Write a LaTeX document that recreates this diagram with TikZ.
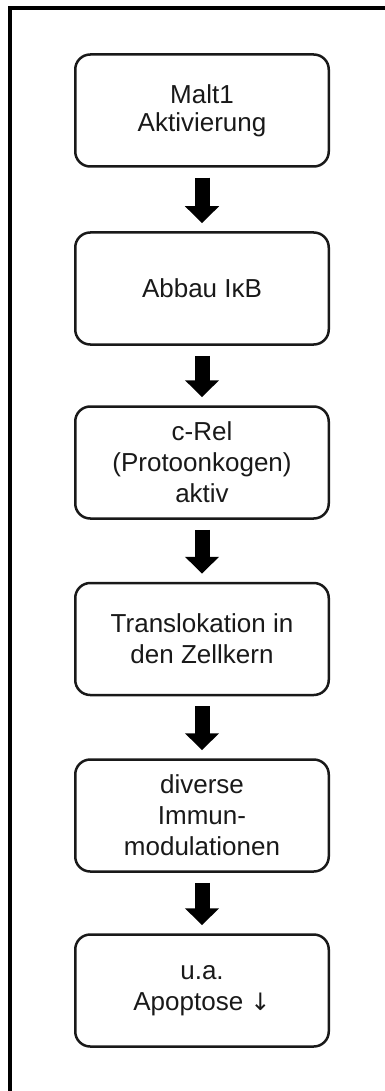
\documentclass[tikz,border=0pt]{standalone}
\usepackage{fontspec}
\setmainfont{Liberation Sans}
\newfontfamily\symfont{DejaVu Sans}
\usetikzlibrary{arrows.meta}
\tikzset{
  stepbox/.style={draw=black!90, line width=2.5pt, rounded corners=15pt,
    minimum width=253.5pt, minimum height=112pt, align=center,
    font=\fontsize{26pt}{31pt}\selectfont, text=black!90, inner sep=0pt},
  flowarrow/.style={line width=15pt, -{Triangle[width=33pt,length=17pt]}, black},
}
\begin{document}
\begin{tikzpicture}[x=1pt,y=-1pt]
\useasboundingbox (0,0) rectangle (384,1091);
\draw[line width=4pt] (386,8) -- (10,8) -- (10,1093);
\node[stepbox, font=\fontsize{26pt}{28pt}\selectfont] (b1) at (202,110.5) {Malt1\\Aktivierung};
\node[stepbox] (b2) at (202,288.5) {Abbau IκB};
\node[stepbox] (b3) at (202,462.5) {c-Rel\\(Protoonkogen)\\aktiv};
\node[stepbox] (b4) at (202,639) {Translokation in\\den Zellkern};
\node[stepbox] (b5) at (202,815.5) {diverse\\Immun-\\modulationen};
\node[stepbox] (b6) at (202,990.5) {u.a.\\Apoptose {\symfont\fontsize{24pt}{31pt}\selectfont ↓}};
\foreach \a/\b in {b1/b2,b2/b3,b3/b4,b4/b5,b5/b6}
  \draw[flowarrow] ([yshift=-10pt]\a.south) -- ([yshift=8pt]\b.north);
\end{tikzpicture}
\end{document}
